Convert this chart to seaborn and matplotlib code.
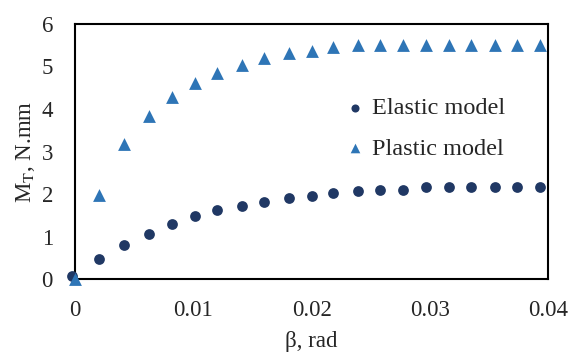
import numpy as np
import pandas as pd
import matplotlib
matplotlib.use("Agg")
import matplotlib.pyplot as plt
import seaborn as sns

beta = [0.0, 0.002, 0.0041, 0.0062, 0.0082, 0.0101, 0.012, 0.0141, 0.016, 0.0181,
        0.020, 0.0218, 0.0239, 0.0258, 0.0277, 0.0297, 0.0316, 0.0335, 0.0355, 0.0374, 0.0393]
beta_elastic = [-0.0003] + beta[1:]
elastic = [0.07, 0.49, 0.82, 1.06, 1.30, 1.49, 1.63, 1.73, 1.82, 1.92,
           1.96, 2.02, 2.07, 2.11, 2.11, 2.16, 2.16, 2.16, 2.16, 2.16, 2.16]
plastic = [0.02, 1.98, 3.18, 3.84, 4.29, 4.60, 4.85, 5.03, 5.19, 5.32,
           5.37, 5.46, 5.50, 5.50, 5.50, 5.50, 5.50, 5.50, 5.50, 5.50, 5.50]
xticks = [0, 0.01, 0.02, 0.03, 0.04]
xticklabels = ["0", "0.01", "0.02", "0.03", "0.04"]

el_df = pd.DataFrame({"beta": beta_elastic, "M": elastic})
pl_df = pd.DataFrame({"beta": beta, "M": plastic})

sns.set_style("white")
plt.rcParams["font.family"] = ["Liberation Serif", "DejaVu Serif"]
plt.rcParams["mathtext.fontset"] = "stix"

fig, ax = plt.subplots(figsize=(5.74, 3.56), dpi=100)
sns.scatterplot(data=el_df, x="beta", y="M", marker="o", color="#203864",
                s=60, linewidth=0, ax=ax, clip_on=False, zorder=3, label="Elastic model")
sns.scatterplot(data=pl_df, x="beta", y="M", marker="^", color="#2e75b6",
                s=85, linewidth=0, ax=ax, clip_on=False, zorder=3, label="Plastic model")

ax.set_xlim(0, 0.04)
ax.set_ylim(0, 6)
ax.set_xticks(xticks)
ax.set_xticklabels(xticklabels)
ax.set_yticks(range(0, 7))
ax.tick_params(axis="x", direction="in", length=5, width=1.5, pad=15, labelsize=16.5)
ax.tick_params(axis="y", length=0, pad=16, labelsize=16.5)
for sp in ax.spines.values():
    sp.set_color("black")
    sp.set_linewidth(1.5)

ax.set_xlabel("β, rad", fontsize=16.5, labelpad=7)
ax.set_ylabel(r"M$_{\mathrm{T}}$, N.mm", fontsize=16.5, labelpad=3)

leg = ax.legend(loc="upper left", bbox_to_anchor=(0.55, 0.75), frameon=False,
                fontsize=17.5, markerscale=0.75, handlelength=0.8,
                handletextpad=0.3, labelspacing=0.75, borderaxespad=0)

fig.subplots_adjust(left=0.131, right=0.955, top=0.933, bottom=0.215)
fig.savefig("out.png", dpi=100)
